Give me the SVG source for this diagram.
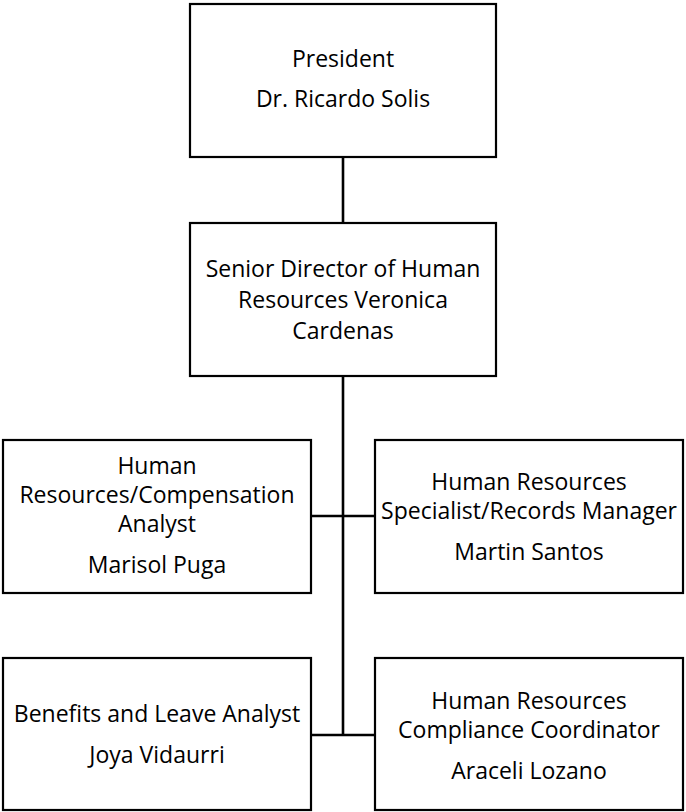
<svg xmlns="http://www.w3.org/2000/svg" width="686" height="812" viewBox="0 0 686 812">
<style>
.box{fill:#fff;stroke:#000;stroke-width:2.2}
.ln{stroke:#000;stroke-width:2.6;fill:none}
text{font-family:"Open Sans","Liberation Sans",sans-serif;font-size:23px;fill:#000;text-anchor:middle}
</style>
<rect width="686" height="812" fill="#fff"/>
<g id="connectors">
<line class="ln" x1="343" y1="157" x2="343" y2="223"/>
<line class="ln" x1="343" y1="376" x2="343" y2="735"/>
<line class="ln" x1="311" y1="516" x2="375" y2="516"/>
<line class="ln" x1="311" y1="735" x2="375" y2="735"/>
</g>
<g id="president">
<rect class="box" x="190" y="4" width="306" height="153"/>
<text x="343" y="67">President</text>
<text x="343" y="107">Dr. Ricardo Solis</text>
</g>
<g id="senior-director">
<rect class="box" x="190" y="223" width="306" height="153"/>
<text x="343" y="277">Senior Director of Human</text>
<text x="343" y="308">Resources Veronica</text>
<text x="343" y="339">Cardenas</text>
</g>
<g id="compensation-analyst">
<rect class="box" x="3" y="440" width="308" height="153"/>
<text x="157" y="474">Human</text>
<text x="157" y="503">Resources/Compensation</text>
<text x="157" y="532">Analyst</text>
<text x="157" y="573">Marisol Puga</text>
</g>
<g id="records-manager">
<rect class="box" x="375" y="440" width="308" height="153"/>
<text x="529" y="490">Human Resources</text>
<text x="529" y="519">Specialist/Records Manager</text>
<text x="529" y="560">Martin Santos</text>
</g>
<g id="benefits-analyst">
<rect class="box" x="3" y="658" width="308" height="152"/>
<text x="157" y="722">Benefits and Leave Analyst</text>
<text x="157" y="763">Joya Vidaurri</text>
</g>
<g id="compliance-coordinator">
<rect class="box" x="375" y="658" width="308" height="152"/>
<text x="529" y="709">Human Resources</text>
<text x="529" y="738">Compliance Coordinator</text>
<text x="529" y="779">Araceli Lozano</text>
</g>
</svg>
